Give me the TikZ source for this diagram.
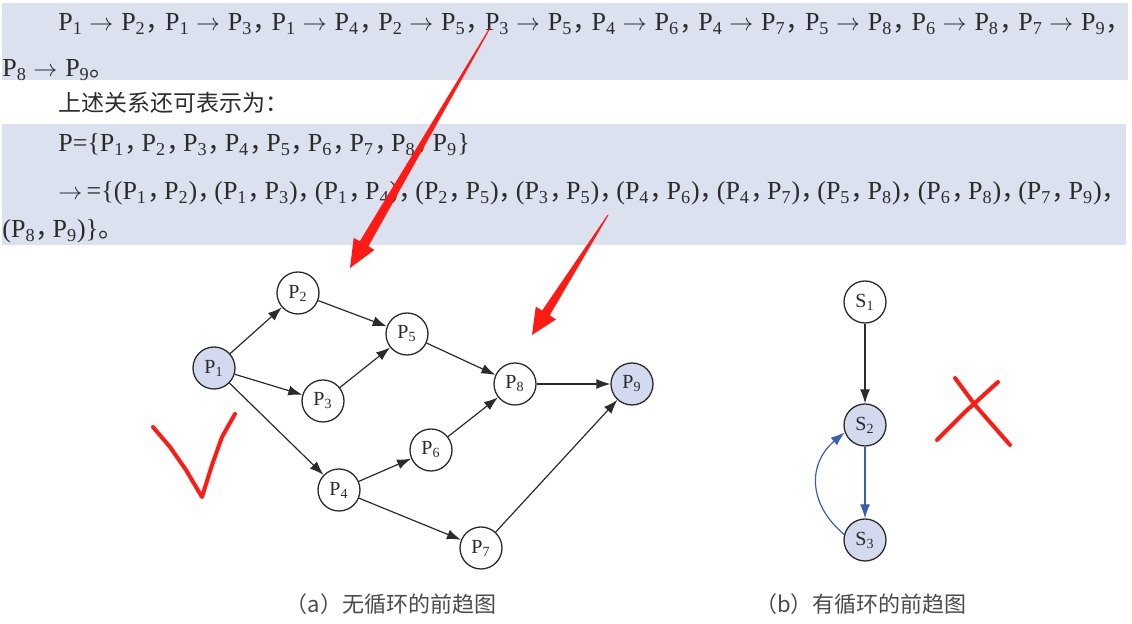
\documentclass[tikz,border=0pt]{standalone}
\usepackage{fontspec}
\setmainfont{Liberation Serif}
\newfontfamily\cjk{Noto Sans CJK SC}
\usetikzlibrary{arrows.meta}
\definecolor{band}{HTML}{DCE1F0}
\definecolor{nodefill}{HTML}{D3D9EE}
\definecolor{ink}{HTML}{2B2B2B}
\definecolor{cycblue}{HTML}{3C5DB4}
\definecolor{pen}{HTML}{FF1A14}
\newcommand\pp[1]{P\textsubscript{#1}}
\newcommand\sn[1]{S\textsubscript{#1}}
\newcommand\arr{\hspace{0.25em}$\rightarrow$\hspace{0.3em}}
\newcommand\zc{\makebox[0.74em][l]{\cjk ，}}
\newcommand\zcs{\makebox[0.655em][l]{\cjk ，}}
\tikzstyle{proc}=[circle,draw=ink,fill=white,line width=0.65pt,inner sep=0pt,minimum size=21pt,text=ink,font=\fontsize{10}{10}\selectfont]
\tikzstyle{busy}=[proc,fill=nodefill]
\tikzstyle{edge}=[draw=ink,line width=0.6pt,-{Latex[length=7pt,width=5pt]}]
\tikzstyle{cycedge}=[edge,draw=cycblue]
\tikzstyle{txt}=[anchor=base west,inner sep=0pt,text=ink,font=\fontsize{13}{13}\selectfont]
\tikzstyle{caption}=[inner sep=0pt,text=ink!85,font=\cjk\fontsize{11}{11}\selectfont]
\tikzstyle{redpen}=[draw=pen,line width=2pt,line cap=round,line join=round]

\begin{document}
\begin{tikzpicture}[x=0.5pt,y=-0.5pt]
			\useasboundingbox (0,0) rectangle (1132,624);
			\fill [band] (2,3) rectangle (1128,80);
			\fill [band] (2,124) rectangle (1126,245);
			\node (l1) at (58,31) [txt] {\pp1\arr\pp2\zc\pp1\arr\pp3\zc\pp1\arr\pp4\zc\pp2\arr\pp5\zc\pp3\arr\pp5\zc\pp4\arr\pp6\zc\pp4\arr\pp7\zc\pp5\arr\pp8\zc\pp6\arr\pp8\zc\pp7\arr\pp9\zc};
			\node (l2) at (2,77) [txt] {\pp8\arr\pp9{\cjk 。}};
			\node (l3) at (58,112) [txt,font=\cjk\fontsize{11.5}{11.5}\selectfont] {上述关系还可表示为：};
			\node (l4) at (58,152) [txt] {P=\{\pp1\zcs\pp2\zcs\pp3\zcs\pp4\zcs\pp5\zcs\pp6\zcs\pp7\zcs\pp8\zcs\pp9\}};
			\node (l5) at (58,200) [txt] {$\rightarrow$\,=\{(\pp1\zcs\pp2)\zcs(\pp1\zcs\pp3)\zcs(\pp1\zcs\pp4)\zcs(\pp2\zcs\pp5)\zcs(\pp3\zcs\pp5)\zcs(\pp4\zcs\pp6)\zcs(\pp4\zcs\pp7)\zcs(\pp5\zcs\pp8)\zcs(\pp6\zcs\pp8)\zcs(\pp7\zcs\pp9)\zcs};
			\node (l6) at (2,238) [txt] {(\pp8\zcs\pp9)\}{\cjk 。}};

			\node (p1) at (214,368) [busy] {\pp1};
			\node (p2) at (298,293) [proc] {\pp2};
			\node (p3) at (323,401) [proc] {\pp3};
			\node (p4) at (339,490) [proc] {\pp4};
			\node (p5) at (407,334) [proc] {\pp5};
			\node (p6) at (431,450) [proc] {\pp6};
			\node (p7) at (481,548) [proc] {\pp7};
			\node (p8) at (515,384) [proc] {\pp8};
			\node (p9) at (632,384) [busy] {\pp9};
			\draw [edge] (p1)--(p2);
			\draw [edge] (p1)--(p3);
			\draw [edge] (p1)--(p4);
			\draw [edge] (p2)--(p5);
			\draw [edge] (p3)--(p5);
			\draw [edge] (p4)--(p6);
			\draw [edge] (p4)--(p7);
			\draw [edge] (p5)--(p8);
			\draw [edge] (p6)--(p8);
			\draw [edge] (p7)--(p9);
			\draw [edge] (p8)--(p9);

			\node (s1) at (865,302) [proc] {\sn1};
			\node (s2) at (865,425) [busy] {\sn2};
			\node (s3) at (865,540) [busy] {\sn3};
			\draw [edge] (s1)--(s2);
			\draw [cycedge] (s2)--(s3);
			\draw [cycedge] (s3.165) to[out=140,in=220,looseness=1.2] (s2.200);

			\node (capa) at (391,604) [caption] {（a）无循环的前趋图};
			\node (capb) at (861,604) [caption] {（b）有循环的前趋图};

			\fill [pen] (490.4,28.3)--(368.4,246.3)--(374.5,249.9)--(350,268)--(353.7,237.8)--(359.8,241.3)--(489.6,27.7)--cycle;
			\fill [pen] (608.4,215.3)--(549.7,315.4)--(556.0,319.4)--(532,335)--(535.8,306.6)--(542.1,310.6)--(607.6,214.7)--cycle;
			\draw [redpen] (153,427)--(170,447)--(186,470)--(202,497)--(212,465)--(222,437)--(235,414);
			\draw [redpen] (955,378)--(975,405)--(1010,445);
			\draw [redpen] (937,440)--(965,412)--(998,382);
		\end{tikzpicture}
\end{document}
